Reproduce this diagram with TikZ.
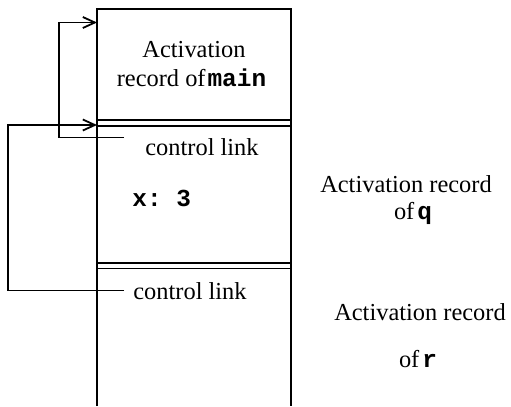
\documentclass[tikz,border=0pt]{standalone}
\usepackage{fontspec}
\setmainfont{Liberation Serif}
\setmonofont{Liberation Mono}
\usetikzlibrary{arrows.meta}
\begin{document}
\begin{tikzpicture}[x=1bp,y=-1bp,
  boxline/.style={line width=1.6bp, black},
  linkline/.style={line width=1.2bp, black, -{Straight Barb[length=12bp,width=11bp,line width=1.8bp]}},
  lbl/.style={inner sep=0pt, anchor=base, font=\fontsize{24.5}{28}\selectfont},
  code/.style={inner sep=0pt, anchor=base, font=\fontsize{24.5}{28}\selectfont\ttfamily\bfseries}]
\useasboundingbox (0,0) rectangle (511,406);
% stack frame outline
\coordinate (tl) at (97,9);
\coordinate (tr) at (291,9);
\coordinate (bl) at (97,406);
\coordinate (br) at (291,406);
\draw[boxline] (bl) -- (tl) -- (tr) -- (br);
\draw[boxline] (97,120) -- (291,120);
\draw[boxline] (97,126) -- (291,126);
\draw[boxline] (97,263) -- (291,263);
\draw[boxline] (97,268.5) -- (291,268.5);
% texts
\node[lbl] (mainA) at (194,57) {Activation};
\node[lbl] (mainB) at (191.5,86.5) {record of\hspace{2bp}\texttt{\bfseries main}};
\node[lbl] (cl1) at (202,155) {control link};
\node[code] (x3) at (161.7,206) {x: 3};
\node[lbl] (cl2) at (190,299) {control link};
\node[lbl] (qA) at (406,192) {Activation record};
\node[lbl] (qB) at (413,219) {of\hspace{3bp}\texttt{\bfseries q}};
\node[lbl] (rA) at (420,320) {Activation record};
\node[lbl] (rB) at (418,367) {of\hspace{3bp}\texttt{\bfseries r}};
% control links
\coordinate (s1) at (124,137.5);
\coordinate (t1) at (97,22.5);
\coordinate (s2) at (124,290.5);
\coordinate (t2) at (97,125);
\draw[linkline] (s1) -- (59,137.5) -- (59,22.5) -- (t1);
\draw[linkline] (s2) -- (8,290.5) -- (8,125) -- (t2);
\end{tikzpicture}
\end{document}
